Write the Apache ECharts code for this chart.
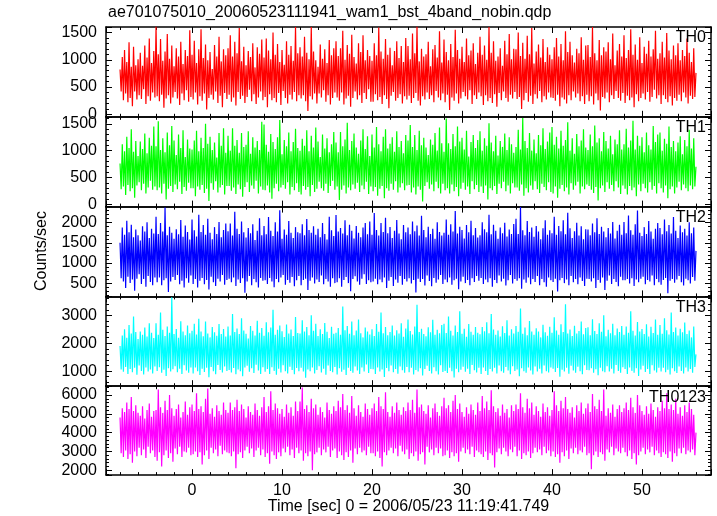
<!DOCTYPE html>
<html>
<head>
<meta charset="utf-8">
<script src="https://cdn.jsdelivr.net/npm/echarts@6/dist/echarts.min.js"></script>
<style>
html,body{margin:0;padding:0;background:#fff;}
#chart{width:717px;height:516px;}
</style>
</head>
<body>
<div id="chart"></div>
<script>
// ---- data (0.125 s bins starting at t = -8 s) ----
const T0 = -8;
const DT = 0.125;
const panelNames = ['TH0', 'TH1', 'TH2', 'TH3', 'TH0123'];
const titleText = 'ae701075010_20060523111941_wam1_bst_4band_nobin.qdp';
const yTitle = 'Counts/sec';
const xTitle = 'Time [sec] 0 = 2006/05/23 11:19:41.749';
const xTickLabels = [0, 10, 20, 30, 40, 50];
const yTickLabels = [
  [0, 500, 1000, 1500],
  [0, 500, 1000, 1500],
  [500, 1000, 1500, 2000],
  [1000, 2000, 3000],
  [2000, 3000, 4000, 5000, 6000]
];

const th0 = [
  820,420,1050,260,1180,380,960,220,1320,300,870,150,1240,420,900,270,
  1010,350,1130,280,890,460,1260,190,1040,330,1390,250,940,400,1160,310,
  1610,330,1100,240,1380,360,980,120,1150,290,1470,350,1020,200,1260,310,
  880,410,1210,290,1060,170,1330,380,920,260,1180,440,1070,230,1540,320,
  1090,270,1350,400,940,180,1190,330,1560,250,1030,380,1280,90,990,300,
  1140,360,830,270,1270,420,1060,210,1420,340,970,130,1190,390,1080,280,
  1210,360,1450,230,1060,310,1330,160,1120,410,1580,280,970,340,1240,210,
  900,320,1160,450,1050,240,1300,370,860,190,1230,310,1110,420,1370,260,
  1040,320,1390,130,1170,370,1010,260,1500,300,1090,220,1290,390,960,170,
  1180,430,910,300,1340,200,1090,360,1250,270,980,410,1600,240,1120,350,
  1230,290,1060,350,1420,240,1130,60,1010,330,1600,270,1150,380,990,200,
  870,380,1280,310,1020,440,1190,230,940,350,1360,180,1080,300,1210,400,
  1340,310,1070,250,1210,400,1530,180,1000,290,1270,340,1110,140,1460,300,
  1050,420,930,270,1300,350,1140,210,1450,390,990,280,1180,460,1070,230,
  980,230,1300,370,1080,260,1590,320,1150,190,1020,350,1380,280,1090,110,
  1220,340,900,410,1160,250,1340,300,1030,370,1250,200,960,330,1400,270,
  1250,340,1010,210,1480,300,1120,390,1610,250,970,160,1200,330,1060,270,
  1100,400,1330,280,880,350,1190,220,1270,430,1040,310,1520,260,950,380,
  1370,220,1140,360,990,80,1290,310,1050,250,1550,380,1180,200,1020,290,
  1240,410,960,330,1390,270,1080,440,1170,190,1300,350,920,280,1130,400,
  1420,330,1090,170,1260,350,1000,240,1600,300,1130,210,1340,370,980,140,
  1060,390,1210,260,890,420,1350,300,1100,230,1470,360,1010,290,1200,410,
  1190,280,1500,320,1070,100,1310,260,1020,390,1440,230,1100,340,1580,190,
  930,370,1150,290,1280,430,1040,220,1380,330,960,270,1230,400,1090,310,
  1010,300,1230,250,1400,360,1060,150,1290,310,990,270,1520,200,1140,350,
  1330,260,1080,420,950,310,1200,380,1120,240,1410,330,1000,190,1260,360,
  1270,240,1050,330,1600,180,1120,380,990,260,1360,70,1080,320,1230,290,
  1150,400,1320,220,1010,350,1480,280,900,430,1170,300,1290,250,1060,390,
  1450,210,1030,340,1180,260,1560,310,1090,130,1280,370,1000,240,1410,300,
  940,380,1240,270,1110,410,1350,230,1060,320,1190,450,1530,290,1020,350,
  1120,190,1330,350,1040,280,1490,220,1170,330,1010,160,1260,300,1080,250,
  1300,360,990,240,1180,400,1070,310,1390,200,1130,340,960,280,1210,320,
  760
];
const th1 = [
  760,280,1120,330,990,170,1260,360,1050,240,1400,300,980,120,1180,350,
  900,410,1170,260,1030,380,1320,200,950,310,1240,440,1090,270,1450,330,
  1080,260,1550,310,1010,200,1230,380,970,90,1340,290,1100,340,1460,230,
  1190,370,920,280,1300,420,1050,190,1380,320,880,250,1210,400,1040,300,
  1020,300,1190,150,1370,330,990,270,1240,360,1050,210,1500,290,1130,60,
  1260,390,1010,270,1150,430,870,220,1330,310,1090,360,1420,180,960,340,
  1280,340,1000,250,1420,310,1090,190,1200,370,960,280,1330,140,1070,320,
  1110,410,1360,230,940,350,1250,290,1060,440,1180,200,1010,330,1540,270,
  1490,260,1110,350,980,220,1310,100,1160,300,1030,380,1250,240,1570,310,
  930,360,1200,290,1080,410,1340,180,990,320,1160,260,1410,390,1050,230,
  1000,180,1220,340,1090,270,1380,320,990,150,1280,360,1060,230,1430,290,
  1170,420,880,300,1300,250,1040,380,1230,210,970,340,1120,440,1350,270,
  1150,330,970,80,1350,270,1080,350,1210,200,1520,310,1010,260,1180,370,
  1320,290,1060,400,940,230,1190,350,1400,280,1030,420,1270,190,900,330,
  1300,240,1060,320,1440,160,1120,290,990,340,1260,110,1400,300,1040,250,
  1130,380,1250,270,980,430,1360,220,1070,310,1180,390,950,260,1290,350,
  1190,360,1480,220,1070,310,1290,180,1010,330,1370,270,1100,50,1240,340,
  1060,410,920,290,1210,370,1110,240,1330,420,1000,300,1430,200,1140,380,
  980,260,1600,300,1140,200,1030,370,1310,240,1080,320,1450,150,1170,290,
  1240,400,1020,270,1370,330,890,190,1160,430,1290,280,1050,360,1200,230,
  1360,330,1000,210,1230,350,1090,90,1510,300,1150,260,990,340,1280,190,
  910,380,1180,300,1070,420,1320,240,1010,350,1250,200,1120,390,960,310,
  1070,310,1390,250,1020,370,1610,160,1180,300,1050,220,1330,350,1000,270,
  1210,430,950,280,1290,210,1100,380,1420,320,1030,260,1170,410,1340,230,
  1440,200,1110,330,1260,120,1040,290,1370,360,1090,240,1200,310,1530,180,
  1000,390,1230,270,940,350,1310,420,1080,200,1190,330,1400,280,1060,370,
  1010,340,1300,270,1080,210,1470,320,1150,70,1230,300,990,350,1350,230,
  1180,410,1040,290,1280,360,930,240,1210,430,1120,310,1380,190,1020,350,
  1120,290,1410,180,1060,340,1190,260,1560,310,1020,150,1280,370,1090,240,
  1250,380,970,300,1340,220,1100,410,1020,270,1460,340,1160,200,1300,390,
  1340,300,1000,220,1220,350,1130,110,1450,280,1070,330,1180,200,990,310,
  1150,420,1270,260,930,370,1200,300,1080,240,1390,350,1040,280,1230,330,
  700
];
const th2 = [
  1500,620,1880,540,1700,380,2050,660,1760,500,1950,590,1640,310,1830,610,
  1690,720,1560,480,1910,600,1780,410,2010,680,1620,530,1850,450,1730,640,
  2150,520,1720,640,1990,450,1780,570,2380,620,1690,280,1900,540,1750,650,
  1600,580,1840,700,1710,470,2070,560,1650,390,1930,620,1770,510,1580,690,
  2080,480,1810,600,1660,390,2200,560,1770,630,1940,470,1700,580,2100,340,
  1750,660,1590,520,1890,430,1720,610,2020,540,1640,700,1820,460,1980,580,
  1790,610,1980,520,1680,640,2270,430,1850,590,1720,500,2030,620,1760,260,
  1630,540,1870,680,1740,450,1960,600,1570,520,1800,390,2110,630,1690,560,
  1920,570,1710,480,2140,630,1800,540,1670,400,2010,600,1780,520,2310,640,
  1600,700,1830,460,1700,580,2040,510,1750,650,1620,420,1890,570,1760,680,
  1740,450,1960,580,1690,610,2090,330,1820,560,1750,640,1910,490,1700,590,
  1850,530,1640,690,1990,470,1720,600,1580,540,2150,410,1810,620,1670,500,
  2190,520,1780,620,1870,410,1730,580,2060,650,1690,500,1950,300,1800,600,
  1610,670,1920,540,1750,460,1640,610,1880,720,1990,480,1710,570,2030,520,
  1700,540,2240,610,1820,470,1680,590,1990,520,1770,640,2120,380,1740,560,
  1890,650,1620,430,1800,590,2070,510,1730,680,1590,460,1940,600,1760,540,
  1880,620,1710,490,2030,580,1790,270,1930,610,1680,530,2170,600,1820,440,
  1640,690,1900,550,1720,420,1850,630,1600,510,2010,590,1770,700,1680,480,
  1750,590,2080,520,1700,640,1960,460,1780,570,2290,610,1730,350,1900,540,
  1820,660,1610,500,1940,580,1760,450,2050,620,1690,530,1870,680,1630,560,
  1690,630,2010,480,1840,590,1760,520,2200,620,1710,410,1950,580,1800,500,
  1600,690,1880,540,1740,610,2000,440,1660,570,1830,700,1720,490,1970,600,
  2100,560,1720,620,2390,360,1810,590,1690,510,2040,640,1770,470,1880,600,
  1650,530,1920,680,1780,450,1590,600,1860,520,2060,410,1700,640,1810,570,
  1740,530,2150,610,1700,290,1920,570,1790,630,2060,500,1710,590,2250,450,
  1860,680,1620,520,1790,600,2000,470,1680,640,1910,550,1590,430,1840,610,
  1830,600,1690,540,1980,620,1760,380,2110,580,1720,510,1900,640,1780,330,
  1640,560,1870,690,1730,480,2020,600,1610,530,1800,420,1950,660,1700,570,
  2020,570,1740,600,2180,490,1810,620,1700,430,1960,590,2300,520,1750,610,
  1670,660,1890,470,1720,580,2040,540,1780,690,1600,450,1850,600,1990,520,
  1870,460,1710,580,2080,630,1790,250,1940,560,1730,600,2140,510,1800,590,
  1620,680,1930,520,1760,440,1850,610,1680,570,2010,490,1740,650,1880,560,
  1300
];
const th3 = [
  1900,1060,2280,980,2500,1150,2200,900,2650,1080,2350,960,2960,1120,2400,870,
  2150,1200,2420,1010,2300,880,2560,1130,2240,990,2720,1060,2380,920,2190,1170,
  2720,1010,2300,1140,3100,940,2480,1050,2260,830,2600,1100,2380,990,3650,1070,
  2330,1180,2510,960,2200,1090,2790,900,2420,1210,2290,1020,2640,940,2360,1130,
  2450,920,2700,1130,2310,1000,2880,860,2420,1090,2250,970,2780,1120,2350,780,
  2210,1150,2580,1000,2390,890,2270,1220,2690,1040,2330,950,2510,1170,2240,1010,
  2600,1040,2280,950,3050,1110,2400,890,2530,1060,2330,1000,2900,820,2460,1130,
  2340,1190,2170,980,2620,1100,2450,930,2280,1230,2810,1020,2380,900,2550,1140,
  2270,980,2750,1080,2390,900,2560,1140,3200,1010,2300,870,2480,1090,2640,950,
  2430,1210,2220,1000,2670,920,2350,1160,2490,1040,2260,890,2940,1110,2370,1000,
  2350,1120,2820,990,2420,760,2580,1060,2290,1000,3000,1130,2450,920,2700,1040,
  2260,1180,2500,950,2330,1090,2730,870,2410,1200,2190,1010,2590,960,2340,1150,
  2380,880,2550,1100,2300,980,3320,1050,2470,860,2620,1120,2340,1010,2780,940,
  2290,1170,2460,1020,2850,900,2360,1130,2210,990,2560,1240,2420,930,2310,1080,
  2500,1070,2260,900,2690,1130,2410,990,3100,1060,2360,790,2580,1110,2290,1000,
  2400,1200,2640,960,2280,1080,2470,910,2350,1170,2720,1030,2230,940,2530,1150,
  2850,960,2440,1120,2310,880,2600,1040,3380,990,2400,1100,2520,840,2330,1080,
  2250,1190,2570,1010,2390,920,2840,1140,2300,1000,2480,880,2360,1210,2650,970,
  2700,1010,2370,930,2960,1120,2450,1000,2280,770,2640,1090,2400,960,3150,1050,
  2340,1160,2520,980,2230,1090,2690,900,2410,1220,2300,1030,2580,950,2380,1120,
  2320,900,2580,1130,2430,1010,2750,860,2360,1080,3050,990,2490,1120,2300,920,
  2460,1200,2240,1000,2610,940,2370,1150,2820,1020,2280,890,2500,1180,2350,1010,
  2620,1060,2410,820,3250,1100,2340,1000,2560,940,2290,1130,2800,1020,2420,880,
  2300,1170,2540,990,2420,1090,2210,920,2660,1200,2390,1000,2270,950,2590,1130,
  2380,1090,2930,970,2460,1110,2300,800,2680,1050,2400,990,3400,1120,2350,910,
  2490,1190,2260,1020,2630,940,2350,1160,2440,1000,2780,890,2320,1210,2550,1040,
  2570,1030,2290,1100,2860,940,2440,1070,2330,850,2720,1120,2410,1000,3000,960,
  2250,1180,2480,990,2360,1090,2700,920,2290,1220,2530,1010,2400,940,2620,1140,
  2300,1080,2600,900,2380,1130,3150,1010,2450,940,2280,1100,2760,830,2420,1060,
  2510,1190,2330,970,2680,1080,2240,900,2590,1210,2370,1020,2850,950,2300,1120,
  2650,990,2340,1120,2900,960,2470,1050,2310,880,3100,1100,2400,1000,2560,930,
  2280,1170,2520,1010,2390,920,2740,1130,2330,990,2460,1080,2210,940,2600,1150,
  1600
];
const th0123 = [
  4800,2900,5300,2700,5100,3050,5600,2600,5250,2850,5900,2400,5150,3000,5450,2750,
  5050,3200,4900,2800,5400,3100,4750,2650,5200,3250,5550,2900,4850,3050,5150,2700,
  5200,2500,6300,2950,5350,2200,5050,2800,5700,3050,5200,2650,6000,2900,5300,2450,
  4900,3150,5250,2850,5500,3250,4800,2700,5100,3000,5650,2950,4950,3200,5350,2800,
  5500,2850,5150,3000,6100,2700,5250,2950,5400,2300,5100,2800,5800,3050,6350,2600,
  5000,3200,5300,2900,4850,3100,5450,2750,5150,3300,4950,2850,5600,3050,5200,2950,
  5050,2900,5600,2750,5200,3000,5350,2100,5750,2850,5150,2950,5500,2650,5250,3050,
  4800,3250,5400,2900,5100,3150,4950,2700,5550,3050,5200,3200,4900,2800,5350,3100,
  5900,2700,5100,2900,5400,2350,6200,3000,5200,2800,5550,2600,5300,2950,5000,2750,
  5250,3150,4850,2950,5500,3250,5050,2800,5350,3100,4900,2650,5650,3200,5150,2900,
  5650,3050,6400,2500,5250,2900,5450,2750,5100,3000,5800,2000,5300,2850,5500,2950,
  4950,3200,5350,2800,5100,3100,4800,2950,5600,3250,5200,2700,5000,3050,5400,3150,
  5150,2650,5700,3000,5350,2800,6050,2550,5200,2950,5450,2700,5050,3050,5950,2400,
  5300,3150,4900,2850,5450,3200,5100,2950,4850,3050,5550,2800,5250,3250,4950,2900,
  5300,2900,5550,2750,5150,3000,5900,2650,5400,2200,5250,2950,6150,2800,5100,3050,
  4850,3200,5400,2900,5050,3150,5600,2750,5200,3300,4950,3000,5350,2850,5150,3100,
  5600,2600,5200,2900,5750,2750,5050,3000,6300,2500,5350,2850,5500,2950,5150,2300,
  5000,3250,5450,2950,4800,3100,5300,2800,5550,3200,5100,2900,4900,3150,5400,2750,
  5850,2800,5300,3050,5450,2650,5100,2950,5700,2750,6000,2900,5250,2450,5550,3000,
  5100,3200,4850,2900,5350,3100,5000,2850,5500,3250,5200,2700,4950,3050,5600,2950,
  5150,2850,5950,2700,5300,3000,5650,2550,5200,2900,6250,2800,5400,2150,5100,2950,
  5300,3150,4900,2850,5500,3200,5050,3000,5250,2750,4800,3100,5450,2950,5150,3250,
  5500,2750,5250,3050,6100,2600,5350,2900,5050,2800,5800,3000,5300,2650,5600,2900,
  4950,3200,5400,2950,5150,3100,4850,2800,5550,3250,5100,2900,5350,3050,4900,2750,
  5200,3000,6200,2700,5450,2850,5150,2400,5700,2950,5300,2750,5900,3050,5250,2600,
  5050,3150,5350,2900,4800,3200,5450,2850,5150,3050,5600,2950,5000,3250,5300,2800,
  5550,2900,5100,2050,6050,2800,5400,3000,5250,2700,5750,2950,5150,2850,6300,2500,
  4900,3100,5300,2950,5050,3250,5500,2800,4850,3150,5250,3000,5450,2900,5100,3200,
  5300,2950,5600,2750,5200,3050,5850,2600,5350,2900,5050,2300,6000,2800,5450,3000,
  5150,3200,4950,2850,5400,3100,5000,2950,5550,3250,5200,2800,4850,3050,5350,2900,
  5150,2700,5700,2950,5300,2850,6100,2650,5250,3000,5500,2450,5200,2900,5800,2750,
  5000,3150,5350,2900,4900,3200,5450,2850,5100,3050,5600,2950,5250,3100,4950,2800,
  4000
];
const seriesValues = [th0, th1, th2, th3, th0123];

// ---- styling / layout ----
const colors = ['#ff0000', '#00ff00', '#0000ff', '#00ffff', '#ff00ff'];
const yRanges = [[-45, 1600], [-45, 1632], [170, 2400], [460, 3680], [1740, 6470]];
const yIntervals = [500, 500, 500, 1000, 1000];
const xRange = [-9.56, 57.67];
const FONT = 'Liberation Sans, Arial, Helvetica, sans-serif';
const GRID_LEFT = 106, GRID_RIGHT = 6, GRID_TOP = 27, PANEL_H = 89.8;

const lineStyle = { color: '#000', width: 1.5 };
const grids = [], xAxes = [], yAxes = [], series = [], graphics = [];

for (let i = 0; i < 5; i++) {
  const top = GRID_TOP + i * PANEL_H;
  grids.push({ left: GRID_LEFT, right: GRID_RIGHT, top: top, height: PANEL_H, containLabel: false });
  const isLast = i === 4;
  const xBase = {
    type: 'value', gridIndex: i, min: xRange[0], max: xRange[1],
    minInterval: 10, maxInterval: 10,
    axisLine: { show: true, onZero: false, lineStyle: lineStyle },
    axisTick: { show: true, inside: true, length: 6, lineStyle: { color: '#000', width: 1 } },
    minorTick: { show: true, splitNumber: 5, length: 3, lineStyle: { color: '#000', width: 1 } },
    splitLine: { show: false }
  };
  xAxes.push(Object.assign({}, xBase, {
    position: 'bottom',
    axisLabel: {
      show: isLast, margin: 7, fontSize: 16, color: '#000', fontFamily: FONT,
      formatter: v => xTickLabels.includes(Math.round(v * 1000) / 1000) ? String(v) : ''
    },
    name: isLast ? xTitle : '', nameLocation: 'middle', nameGap: 17,
    nameTextStyle: { fontSize: 16, color: '#000', fontFamily: FONT }
  }));
  xAxes.push(Object.assign({}, xBase, { position: 'top', axisLabel: { show: false } }));

  const yBase = {
    type: 'value', gridIndex: i, min: yRanges[i][0], max: yRanges[i][1],
    minInterval: yIntervals[i], maxInterval: yIntervals[i],
    axisLine: { show: true, onZero: false, lineStyle: lineStyle },
    axisTick: { show: true, inside: true, length: 6, lineStyle: { color: '#000', width: 1 } },
    minorTick: { show: true, splitNumber: 5, length: 3, lineStyle: { color: '#000', width: 1 } },
    splitLine: { show: false }
  };
  const labs = yTickLabels[i];
  yAxes.push(Object.assign({}, yBase, {
    position: 'left',
    axisLabel: {
      show: true, margin: 9, fontSize: 16, color: '#000', fontFamily: FONT,
      formatter: v => labs.includes(v) ? String(v) : ''
    }
  }));
  yAxes.push(Object.assign({}, yBase, { position: 'right', axisLabel: { show: false } }));

  const vals = seriesValues[i];
  series.push({
    type: 'line', xAxisIndex: 2 * i, yAxisIndex: 2 * i,
    data: vals.map((v, k) => [T0 + k * DT, v]),
    showSymbol: false, symbol: 'none', sampling: null,
    lineStyle: { color: colors[i], width: 1.2 },
    z: 1, clip: true, animation: false
  });

  graphics.push({
    type: 'text', right: 11, top: top + 3,
    style: { text: panelNames[i], fontSize: 16, fill: '#000', fontFamily: FONT },
    z: 100
  });
}

graphics.push({
  type: 'text', left: 108, top: 5,
  style: { text: titleText, fontSize: 16, fill: '#000', fontFamily: FONT }
});
graphics.push({
  type: 'text', x: 42, y: 251, rotation: Math.PI / 2,
  style: { text: yTitle, fontSize: 16, fill: '#000', fontFamily: FONT, align: 'center', verticalAlign: 'middle' }
});

const chart = echarts.init(document.getElementById('chart'), null, { renderer: 'canvas' });
chart.setOption({
  animation: false,
  backgroundColor: '#fff',
  grid: grids,
  xAxis: xAxes,
  yAxis: yAxes,
  series: series,
  graphic: graphics
});
</script>
</body>
</html>
